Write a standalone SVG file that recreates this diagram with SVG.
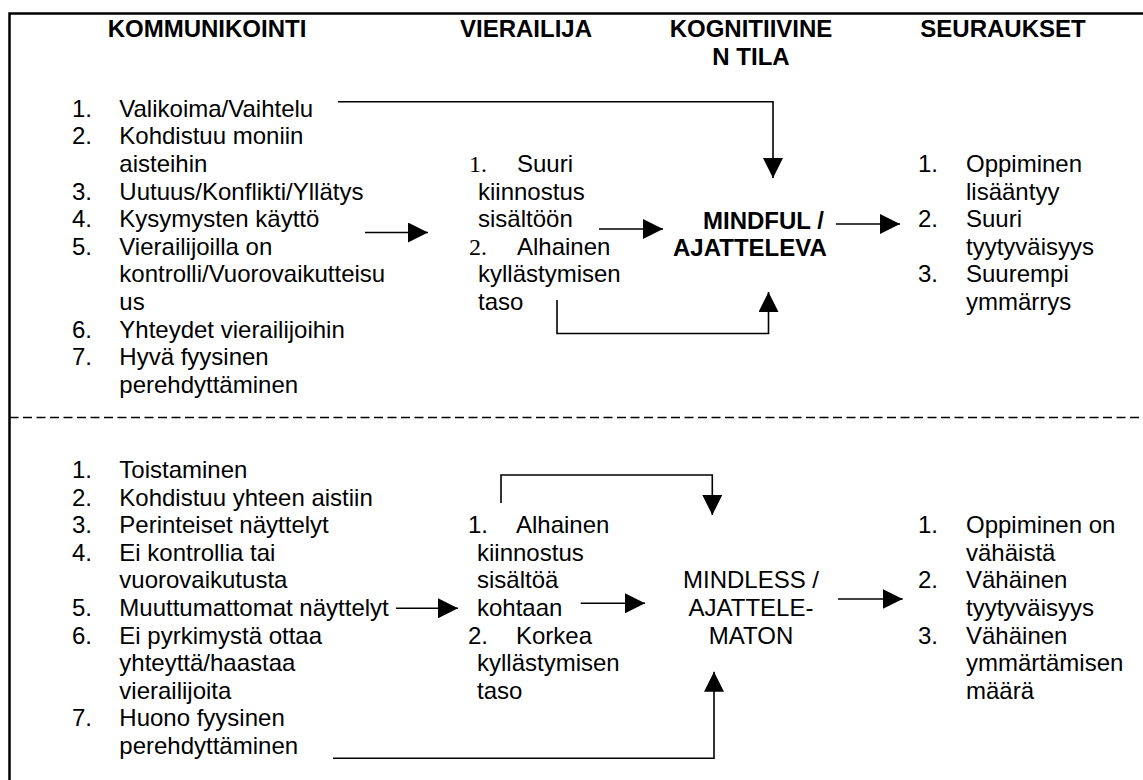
<svg xmlns="http://www.w3.org/2000/svg" width="1143" height="780" viewBox="0 0 1143 780">
<style>
text{font-family:"Liberation Sans",Arial,sans-serif;font-size:24px;fill:#000}
.h{font-weight:bold}
.c{text-anchor:middle}
.ser{font-family:"Liberation Serif","Times New Roman",serif}
.con{fill:none;stroke:#000;stroke-width:1.6}
.frame{fill:none;stroke:#000;stroke-width:2.5}
</style>
<defs>
<marker id="ah" markerUnits="userSpaceOnUse" markerWidth="20" markerHeight="20" refX="20" refY="10" orient="auto" viewBox="0 0 20 20">
<path d="M0,0 L20,10 L0,20 Z" fill="#000"/>
</marker>
</defs>
<rect x="0" y="0" width="1143" height="780" fill="#fff"/>
<g id="frame">
<path class="frame" d="M9.5,780 V13.5 H1143"/>
<path d="M9.5,417.5 H1143" fill="none" stroke="#000" stroke-width="1.5" stroke-dasharray="9 4.5"/>
</g>
<g id="headers" class="h">
<text class="h c" x="207" y="37">KOMMUNIKOINTI</text>
<text class="h c" x="526" y="37">VIERAILIJA</text>
<text class="h c" x="751" y="37">KOGNITIIVINE</text>
<text class="h c" x="751" y="64.6">N TILA</text>
<text class="h c" x="1003" y="37">SEURAUKSET</text>
</g>
<g id="comm-upper">
<text x="72" y="116.8">1.</text><text x="119.3" y="116.8">Valikoima/Vaihtelu</text>
<text x="72" y="144.4">2.</text><text x="119.3" y="144.4">Kohdistuu moniin</text>
<text x="119.3" y="172">aisteihin</text>
<text x="72" y="199.6">3.</text><text x="119.3" y="199.6">Uutuus/Konflikti/Yllätys</text>
<text x="72" y="227.2">4.</text><text x="119.3" y="227.2">Kysymysten käyttö</text>
<text x="72" y="254.8">5.</text><text x="119.3" y="254.8">Vierailijoilla on</text>
<text x="119.3" y="282.4">kontrolli/Vuorovaikutteisu</text>
<text x="119.3" y="310">us</text>
<text x="72" y="337.6">6.</text><text x="119.3" y="337.6">Yhteydet vierailijoihin</text>
<text x="72" y="365.2">7.</text><text x="119.3" y="365.2">Hyvä fyysinen</text>
<text x="119.3" y="392.8">perehdyttäminen</text>
</g>
<g id="visitor-upper">
<text class="ser" x="469" y="172">1.</text><text x="517" y="172">Suuri</text>
<text x="478" y="199.6">kiinnostus</text>
<text x="478" y="227.2">sisältöön</text>
<text class="ser" x="469" y="254.8">2.</text><text x="517" y="254.8">Alhainen</text>
<text x="478" y="282.4">kyllästymisen</text>
<text x="478" y="310">taso</text>
</g>
<g id="mindful">
<text class="h" x="703" y="228.5">MINDFUL /</text>
<text class="h" x="673" y="256">AJATTELEVA</text>
</g>
<g id="results-upper">
<text x="918" y="172">1.</text><text x="966" y="172">Oppiminen</text>
<text x="966" y="199.6">lisääntyy</text>
<text x="918" y="227.2">2.</text><text x="966" y="227.2">Suuri</text>
<text x="966" y="254.8">tyytyväisyys</text>
<text x="918" y="282.4">3.</text><text x="966" y="282.4">Suurempi</text>
<text x="966" y="310">ymmärrys</text>
</g>
<g id="comm-lower">
<text x="72" y="478">1.</text><text x="119.3" y="478">Toistaminen</text>
<text x="72" y="505.6">2.</text><text x="119.3" y="505.6">Kohdistuu yhteen aistiin</text>
<text x="72" y="533.2">3.</text><text x="119.3" y="533.2">Perinteiset näyttelyt</text>
<text x="72" y="560.8">4.</text><text x="119.3" y="560.8">Ei kontrollia tai</text>
<text x="119.3" y="588.4">vuorovaikutusta</text>
<text x="72" y="616">5.</text><text x="119.3" y="616">Muuttumattomat näyttelyt</text>
<text x="72" y="643.6">6.</text><text x="119.3" y="643.6">Ei pyrkimystä ottaa</text>
<text x="119.3" y="671.2">yhteyttä/haastaa</text>
<text x="119.3" y="698.8">vierailijoita</text>
<text x="72" y="726.4">7.</text><text x="119.3" y="726.4">Huono fyysinen</text>
<text x="119.3" y="754">perehdyttäminen</text>
</g>
<g id="visitor-lower">
<text x="468" y="533.2">1.</text><text x="516" y="533.2">Alhainen</text>
<text x="477" y="560.8">kiinnostus</text>
<text x="477" y="588.4">sisältöä</text>
<text x="477" y="616">kohtaan</text>
<text x="468" y="643.6">2.</text><text x="516" y="643.6">Korkea</text>
<text x="477" y="671.2">kyllästymisen</text>
<text x="477" y="698.8">taso</text>
</g>
<g id="mindless">
<text class="c" x="751" y="588.4">MINDLESS /</text>
<text class="c" x="751" y="616">AJATTELE-</text>
<text class="c" x="751" y="643.6">MATON</text>
</g>
<g id="results-lower">
<text x="918" y="533.2">1.</text><text x="966" y="533.2">Oppiminen on</text>
<text x="966" y="560.8">vähäistä</text>
<text x="918" y="588.4">2.</text><text x="966" y="588.4">Vähäinen</text>
<text x="966" y="616">tyytyväisyys</text>
<text x="918" y="643.6">3.</text><text x="966" y="643.6">Vähäinen</text>
<text x="966" y="671.2">ymmärtämisen</text>
<text x="966" y="698.8">määrä</text>
</g>
<g id="connectors">
<path class="con" d="M338,101.7 H773 V178" marker-end="url(#ah)"/>
<path class="con" d="M365,232.5 H428" marker-end="url(#ah)"/>
<path class="con" d="M599,229 H663" marker-end="url(#ah)"/>
<path class="con" d="M557,300 V333.5 H768.5 V292" marker-end="url(#ah)"/>
<path class="con" d="M836,224 H900" marker-end="url(#ah)"/>
<path class="con" d="M396,608.3 H458" marker-end="url(#ah)"/>
<path class="con" d="M580.7,603.3 H645" marker-end="url(#ah)"/>
<path class="con" d="M501,503 V475 H712.3 V515" marker-end="url(#ah)"/>
<path class="con" d="M333,758.3 H714 V671.7" marker-end="url(#ah)"/>
<path class="con" d="M838,599 H902.7" marker-end="url(#ah)"/>
</g>
</svg>
